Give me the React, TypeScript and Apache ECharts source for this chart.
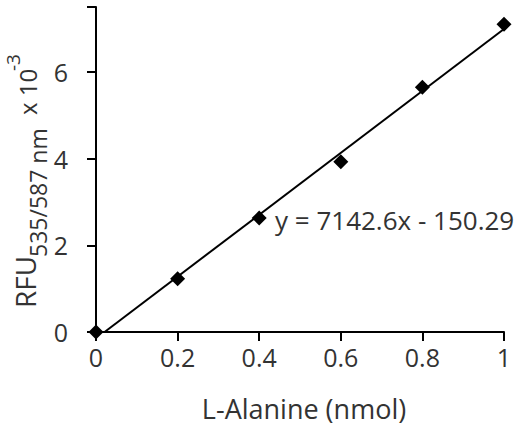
import React, { useEffect, useRef } from 'react';
import * as echarts from 'echarts';

// L-Alanine standard curve (RFU values in units of 10^3)
const alanineNmol = [0, 0.2, 0.4, 0.6, 0.8, 1.0];
const rfuValues = [0, 1.23, 2.63, 3.93, 5.65, 7.1];
const xTicks = [0, 0.2, 0.4, 0.6, 0.8, 1];
const yTicks = [0, 2, 4, 6];

// linear fit shown on the chart
const slope = 7142.6;
const intercept = -150.29;
const equationText = 'y = 7142.6x - 150.29';

const FONT = '"Open Sans", sans-serif';
const TEXT = '#333';

export default function App() {
  const chartRef = useRef<HTMLDivElement>(null);

  useEffect(() => {
    if (!chartRef.current) return;
    const chart = echarts.init(chartRef.current, undefined, { renderer: 'svg' });

    const fitStart = -intercept / slope;
    const trend = [
      [fitStart, (slope * fitStart + intercept) / 1000],
      [1, (slope * 1 + intercept) / 1000],
    ];

    const option = {
      animation: false,
      backgroundColor: '#fff',
      grid: { left: 96, right: 14, top: 7, bottom: 99 },
      xAxis: {
        type: 'value',
        min: 0,
        max: 1,
        interval: 0.2,
        name: 'L-Alanine (nmol)',
        nameLocation: 'middle',
        nameGap: 63,
        nameTextStyle: { fontFamily: FONT, fontSize: 27, color: TEXT, padding: [0, 0, 0, 8] },
        axisLine: { lineStyle: { color: '#000', width: 2 } },
        axisTick: { length: 9, lineStyle: { color: '#000', width: 2 } },
        axisLabel: {
          margin: 12,
          fontFamily: FONT,
          fontSize: 25,
          color: TEXT,
          formatter: (v: number) => (xTicks.includes(+v.toFixed(1)) ? String(+v.toFixed(1)) : ''),
        },
        splitLine: { show: false },
      },
      yAxis: {
        type: 'value',
        min: 0,
        max: 7.5,
        interval: 2,
        axisLine: { show: true, lineStyle: { color: '#000', width: 2 } },
        axisTick: { show: true, length: 9, lineStyle: { color: '#000', width: 2 } },
        axisLabel: {
          margin: 28,
          fontFamily: FONT,
          fontSize: 25,
          color: TEXT,
          formatter: (v: number) => (yTicks.includes(v) ? String(v) : ''),
        },
        splitLine: { show: false },
      },
      graphic: [
        {
          type: 'text',
          x: 25,
          y: 308,
          rotation: Math.PI / 2,
          style: { text: 'RFU', font: `28px ${FONT}`, fill: TEXT, align: 'left', verticalAlign: 'middle' },
        },
        {
          type: 'text',
          x: 38,
          y: 257,
          rotation: Math.PI / 2,
          style: { text: '535/587 nm', font: `23px ${FONT}`, fill: TEXT, align: 'left', verticalAlign: 'middle' },
        },
        {
          type: 'text',
          x: 27,
          y: 115,
          rotation: Math.PI / 2,
          style: { text: 'x 10', font: `24px ${FONT}`, fill: TEXT, align: 'left', verticalAlign: 'middle' },
        },
        {
          type: 'text',
          x: 13,
          y: 71,
          rotation: Math.PI / 2,
          style: { text: '-3', font: `19px ${FONT}`, fill: TEXT, align: 'left', verticalAlign: 'middle' },
        },
        {
          type: 'text',
          left: 275,
          top: 207,
          style: { text: equationText, font: `26px ${FONT}`, fill: TEXT },
        },
      ],
      series: [
        {
          type: 'line',
          data: trend,
          showSymbol: false,
          symbol: 'none',
          lineStyle: { color: '#000', width: 2 },
          clip: true,
          z: 2,
        },
        {
          type: 'scatter',
          data: alanineNmol.map((x, i) => [x, rfuValues[i]]),
          symbol: 'diamond',
          symbolSize: 15,
          itemStyle: { color: '#000', opacity: 1 },
          clip: false,
          z: 3,
        },
      ],
    };

    chart.setOption(option);
    return () => chart.dispose();
  }, []);

  return (
    <div
      ref={chartRef}
      style={{ position: 'fixed', left: 0, top: 0, width: 518, height: 431 }}
    />
  );
}
